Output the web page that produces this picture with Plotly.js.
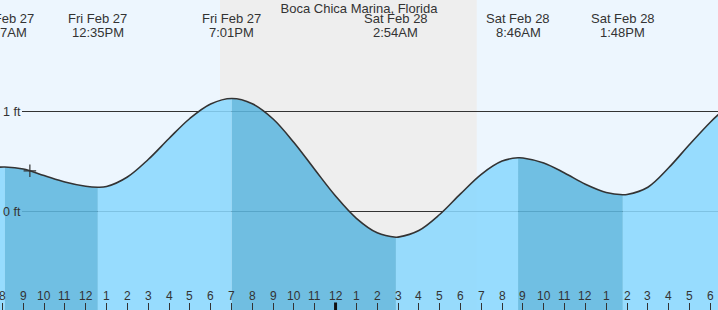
<!DOCTYPE html>
<html><head><meta charset="utf-8">
<script src="https://cdn.plot.ly/plotly-3.0.1.min.js"></script>
<style>html,body{margin:0;padding:0;background:#edf6fe}#chart{width:718px;height:310px}</style>
</head><body><div id="chart"></div>
<script>
const stationName = 'Boca Chica Marina, Florida';

// tide curve readings (ft)
const tideTimes = [
  '2026-02-27 07:45','2026-02-27 08:07','2026-02-27 09:00','2026-02-27 10:00','2026-02-27 11:00','2026-02-27 12:00','2026-02-27 12:35',
  '2026-02-27 13:00','2026-02-27 14:00','2026-02-27 15:00','2026-02-27 16:00','2026-02-27 17:00','2026-02-27 18:00','2026-02-27 19:01',
  '2026-02-27 20:00','2026-02-27 21:00','2026-02-27 22:00','2026-02-27 23:00','2026-02-28 00:00','2026-02-28 01:00','2026-02-28 02:00','2026-02-28 02:54',
  '2026-02-28 03:00','2026-02-28 04:00','2026-02-28 05:00','2026-02-28 06:00','2026-02-28 07:00','2026-02-28 08:00','2026-02-28 08:46',
  '2026-02-28 09:00','2026-02-28 10:00','2026-02-28 11:00','2026-02-28 12:00','2026-02-28 13:00','2026-02-28 13:48',
  '2026-02-28 14:00','2026-02-28 15:00','2026-02-28 16:00','2026-02-28 17:00','2026-02-28 18:00','2026-02-28 18:30'
];
const tideHeights = [
  0.442, 0.445, 0.425, 0.36, 0.295, 0.252, 0.243,
  0.25, 0.345, 0.52, 0.73, 0.93, 1.075, 1.13,
  1.078, 0.925, 0.69, 0.42, 0.155, -0.068, -0.213, -0.257,
  -0.256, -0.19, -0.03, 0.176, 0.372, 0.504, 0.537,
  0.535, 0.485, 0.385, 0.272, 0.19, 0.167,
  0.17, 0.243, 0.437, 0.67, 0.893, 0.99
];

const extremeTimes = ['2026-02-27 08:07','2026-02-27 12:35','2026-02-27 19:01','2026-02-28 02:54','2026-02-28 08:46','2026-02-28 13:48'];
const extremeTypes = ['H','L','H','L','H','L'];
const extremeDayLabels = ['Fri Feb 27','Fri Feb 27','Fri Feb 27','Sat Feb 28','Sat Feb 28','Sat Feb 28'];
const extremeTimeLabels = ['8:07AM','12:35PM','7:01PM','2:54AM','8:46AM','1:48PM'];

const hourTicks = [
  '2026-02-27 08:00','2026-02-27 09:00','2026-02-27 10:00','2026-02-27 11:00','2026-02-27 12:00','2026-02-27 13:00','2026-02-27 14:00',
  '2026-02-27 15:00','2026-02-27 16:00','2026-02-27 17:00','2026-02-27 18:00','2026-02-27 19:00','2026-02-27 20:00','2026-02-27 21:00',
  '2026-02-27 22:00','2026-02-27 23:00','2026-02-28 00:00','2026-02-28 01:00','2026-02-28 02:00','2026-02-28 03:00','2026-02-28 04:00',
  '2026-02-28 05:00','2026-02-28 06:00','2026-02-28 07:00','2026-02-28 08:00','2026-02-28 09:00','2026-02-28 10:00','2026-02-28 11:00',
  '2026-02-28 12:00','2026-02-28 13:00','2026-02-28 14:00','2026-02-28 15:00','2026-02-28 16:00','2026-02-28 17:00','2026-02-28 18:00'
];
const hourTickLabels = ['8','9','10','11','12','1','2','3','4','5','6','7','8','9','10','11','12','1','2','3','4','5','6','7','8','9','10','11','12','1','2','3','4','5','6'];
const midnightTick = '2026-02-28 00:00';

const nightStart = '2026-02-27 18:27';
const nightEnd = '2026-02-28 06:47';

const levelValues = [0, 1];
const levelLabels = ['0 ft', '1 ft'];

const nowTime = ['2026-02-27 09:19'];
const nowHeight = [0.407];

const xRange = ['2026-02-27 07:52:54', '2026-02-28 18:22:12'];
const yRange = [-0.985, 2.115];
const FLOOR = -1.5;

const LIGHT = 'rgba(138,216,254,0.87)';
const DARK = 'rgba(93,183,223,0.87)';
const INK = '#333';
const FONT = 'Liberation Sans, Arial, sans-serif';

// build fill segments between extremes
const bounds = [tideTimes[0], ...extremeTimes, tideTimes[tideTimes.length - 1]];
const boundTypes = [null, ...extremeTypes, null];
const traces = [];
for (let i = 0; i < bounds.length - 1; i++) {
  const a = bounds[i], b = bounds[i + 1];
  const xs = [], ys = [];
  tideTimes.forEach((t, k) => { if (t >= a && t <= b) { xs.push(t); ys.push(tideHeights[k]); } });
  const dark = boundTypes[i + 1] === 'L';
  traces.push({x: [a, b], y: [FLOOR, FLOOR], mode: 'lines', line: {width: 0}, hoverinfo: 'skip', showlegend: false});
  traces.push({x: xs, y: ys, mode: 'lines', line: {width: 0, shape: 'spline'}, fill: 'tonexty',
    fillcolor: dark ? DARK : LIGHT, hoverinfo: 'skip', showlegend: false});
}
traces.push({x: tideTimes, y: tideHeights, mode: 'lines', line: {color: INK, width: 1.6, shape: 'spline'}, hoverinfo: 'skip', showlegend: false});
traces.push({x: nowTime, y: nowHeight, mode: 'markers', marker: {symbol: 'cross-thin-open', size: 9, color: INK, line: {color: INK, width: 1.2}}, hoverinfo: 'skip', showlegend: false});

const shapes = [
  {type: 'rect', xref: 'x', yref: 'paper', x0: nightStart, x1: nightEnd, y0: 0, y1: 1, fillcolor: '#eeeeee', line: {width: 0}, layer: 'below'}
];
levelValues.forEach(v => shapes.push({type: 'line', xref: 'paper', yref: 'y', x0: 22 / 718, x1: 1, y0: v, y1: v, line: {color: INK, width: 1}, layer: 'below'}));
shapes.push({type: 'line', xref: 'x', yref: 'paper', x0: midnightTick, x1: midnightTick, y0: 0, y1: 7.5 / 310, line: {color: '#111', width: 3}, layer: 'above'});

const annotations = [];
extremeTimes.forEach((t, i) => {
  annotations.push({x: t, xref: 'x', y: 1 - 19 / 310, yref: 'paper', yanchor: 'middle', xanchor: 'center', showarrow: false, text: extremeDayLabels[i], font: {size: 13, color: INK, family: FONT}});
  annotations.push({x: t, xref: 'x', y: 1 - 32 / 310, yref: 'paper', yanchor: 'middle', xanchor: 'center', showarrow: false, text: extremeTimeLabels[i], font: {size: 13, color: INK, family: FONT}});
});
hourTicks.forEach((t, i) => {
  annotations.push({x: t, xref: 'x', y: 14.3 / 310, yref: 'paper', yanchor: 'middle', xanchor: 'center', showarrow: false, text: hourTickLabels[i], font: {size: 12, color: INK, family: FONT}});
});
levelValues.forEach((v, i) => {
  annotations.push({x: 0, xref: 'paper', xanchor: 'left', xshift: 1, y: v, yref: 'y', yanchor: 'middle', showarrow: false, text: levelLabels[i], font: {size: 12.5, color: INK, family: FONT}});
});

const layout = {
  width: 718, height: 310, margin: {l: 0, r: 0, t: 0, b: 0, pad: 0},
  paper_bgcolor: '#edf6fe', plot_bgcolor: '#edf6fe', showlegend: false,
  font: {family: FONT, size: 13, color: INK},
  title: {text: stationName, x: 0.5, xanchor: 'center', xref: 'paper', y: 1 - 8 / 310, yanchor: 'middle', yref: 'container', font: {size: 13, color: INK, family: FONT}},
  xaxis: {type: 'date', range: xRange, showgrid: false, zeroline: false, showline: false, tickmode: 'array', tickvals: hourTicks,
    ticktext: hourTickLabels, showticklabels: false, ticks: 'inside', ticklen: 7.5, tickwidth: 1, tickcolor: INK, fixedrange: true},
  yaxis: {range: yRange, showgrid: false, zeroline: false, showline: false, showticklabels: false, ticks: '', fixedrange: true},
  shapes: shapes, annotations: annotations
};
Plotly.newPlot('chart', traces, layout, {staticPlot: true, displayModeBar: false});
</script></body></html>
